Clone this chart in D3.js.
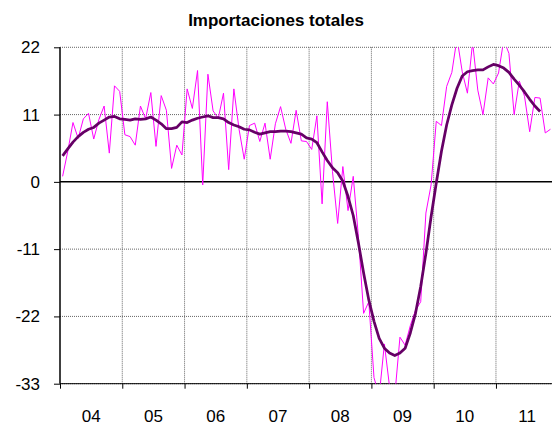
<!DOCTYPE html>
<html>
<head>
<meta charset="utf-8">
<script src="https://cdn.jsdelivr.net/npm/d3@7"></script>
<style>
    body { margin: 0; background: #fff; }
    text { font-family: "Liberation Sans", Arial, sans-serif; }
</style>
</head>
<body>
<div id="graph"></div>
<script>
// monthly series, Jan 2004 onwards
var annees = ["04", "05", "06", "07", "08", "09", "10", "11"];

var importaciones = [
    0.9, 5.0, 9.7, 7.1, 10.3, 11.2, 7.0, 10.2, 12.4, 4.7, 15.7, 14.8,
    7.7, 7.4, 6.0, 12.4, 10.3, 14.6, 5.8, 14.1, 11.7, 2.2, 6.0, 4.4,
    15.2, 12.0, 18.2, -0.5, 17.6, 11.6, 10.4, 14.5, 2.0, 15.2, 8.6, 3.7,
    9.2, 9.6, 6.6, 9.6, 3.7, 9.5, 12.3, 8.6, 6.3, 11.7, 6.7, 6.6,
    5.3, 10.8, -3.6, 13.1, 1.7, -6.8, 2.5, -4.7, 0.9, -9.0, -21.5, -19.6,
    -32.0, -35, -26.5, -33.5, -35, -25.4, -26.7, -23.5, -21.0, -19.6, -5.1, -0.5,
    9.9, 9.2, 15.6, 17.9, 23.5, 18.0, 14.5, 22.8, 15.0, 11.0, 17.0, 16.0,
    17.8, 23.2, 21.0, 11.0, 16.5, 14.0, 8.2, 13.8, 13.7, 8.0, 8.6
];

var tendencia = [
    4.25, 5.4, 6.5, 7.4, 8.1, 8.6, 8.9, 9.6, 10.1, 10.6, 10.7, 10.3,
    10.2, 10.1, 10.3, 10.2, 10.3, 10.6, 10.1, 9.5, 8.7, 8.7, 8.9, 9.8,
    9.7, 10.1, 10.4, 10.6, 10.8, 10.5, 10.5, 10.3, 9.7, 9.3, 9.0, 8.6,
    8.5, 8.1, 7.8, 8.0, 8.2, 8.2, 8.3, 8.3, 8.2, 8.0, 7.8, 7.2,
    7.0, 6.4, 4.9, 3.5, 2.3, 1.5, 0.1, -2.4, -5.5, -10.0, -14.9, -19.3,
    -22.8, -25.6, -27.2, -28.0, -28.4, -28.0, -27.2, -24.7, -21.5, -17.1, -11.7, -5.7,
    -0.2, 5.0, 9.3, 12.6, 15.3, 17.3, 18.0, 18.2, 18.3, 18.3, 18.8, 19.2,
    19.0, 18.6, 17.9, 16.8, 15.8, 14.7, 13.5, 12.4, 11.5
];

var ticksY = [22, 11, 0, -11, -22, -33];

function dessin() {
    var gauche = 60, haut = 47.3, bas = 383.7,
        largeurMois = 5.19,
        droite = gauche + 96 * largeurMois,

        svg = d3.select("#graph")
            .append("svg")
                .attr("width", 552)
                .attr("height", 427),

        x = d3.scaleLinear()
            .domain([0, 96])
            .range([gauche, droite]),

        y = d3.scaleLinear()
            .domain([-33, 22])
            .range([bas, haut]);

    svg.append("text")
        .attr("x", 276)
        .attr("y", 26)
        .style("text-anchor", "middle")
        .style("font-size", "17px")
        .style("font-weight", "bold")
        .text("Importaciones totales");

    svg.append("clipPath")
        .attr("id", "zone")
        .append("rect")
            .attr("x", gauche)
            .attr("y", haut)
            .attr("width", droite - gauche)
            .attr("height", bas - haut);

    // horizontal grid
    svg.selectAll(".grilleY")
        .data(ticksY.filter(function (d) { return d !== 0; }))
        .enter()
        .append("line")
        .attr("x1", gauche)
        .attr("x2", droite)
        .attr("y1", function (d) { return y(d); })
        .attr("y2", function (d) { return y(d); })
        .style("stroke", "#666")
        .style("stroke-width", 1)
        .style("stroke-dasharray", "1 1");

    // vertical grid at year boundaries
    svg.selectAll(".grilleX")
        .data(d3.range(1, annees.length))
        .enter()
        .append("line")
        .attr("x1", function (d) { return x(d * 12); })
        .attr("x2", function (d) { return x(d * 12); })
        .attr("y1", haut)
        .attr("y2", bas)
        .style("stroke", "#666")
        .style("stroke-width", 1)
        .style("stroke-dasharray", "1 1");

    // y axis, plain hyphen for negatives
    var axeY = svg.append("g")
        .attr("transform", "translate(" + gauche + ",0)")
        .call(d3.axisLeft(y)
            .tickValues(ticksY)
            .tickSize(6)
            .tickPadding(14)
            .tickFormat(function (d) { return String(d); }));
    axeY.select(".domain").remove();
    axeY.selectAll("text")
        .style("font-size", "17px")
        .style("fill", "#000");
    svg.append("line")
        .attr("x1", gauche).attr("x2", gauche)
        .attr("y1", haut).attr("y2", bas)
        .style("stroke", "#000").style("stroke-width", 1.5);

    // x axis at the bottom
    var axeX = svg.append("g")
        .attr("transform", "translate(0," + bas + ")")
        .call(d3.axisBottom(x)
            .tickValues(d3.range(0, annees.length + 1).map(function (d) { return d * 12; }))
            .tickSize(5)
            .tickFormat(""));
    axeX.select(".domain").remove();
    svg.append("line")
        .attr("x1", gauche).attr("x2", droite)
        .attr("y1", bas).attr("y2", bas)
        .style("stroke", "#000").style("stroke-width", 1);

    svg.selectAll(".annee")
        .data(annees)
        .enter()
        .append("text")
        .attr("x", function (d, i) { return x(i * 12 + 6); })
        .attr("y", 422)
        .style("text-anchor", "middle")
        .style("font-size", "17px")
        .text(function (d) { return d; });

    // zero line
    svg.append("line")
        .attr("x1", gauche).attr("x2", droite)
        .attr("y1", y(0)).attr("y2", y(0))
        .style("stroke", "#000").style("stroke-width", 1.5);

    var trace = d3.line()
        .x(function (d, i) { return x(i + 0.5); })
        .y(function (d) { return y(d); });

    svg.append("path")
        .datum(importaciones)
        .attr("clip-path", "url(#zone)")
        .attr("fill", "none")
        .attr("stroke", "#ff00ff")
        .attr("stroke-width", 1)
        .attr("d", trace);

    svg.append("path")
        .datum(tendencia)
        .attr("clip-path", "url(#zone)")
        .attr("fill", "none")
        .attr("stroke", "#660066")
        .attr("stroke-width", 2.75)
        .attr("stroke-linejoin", "round")
        .attr("d", trace);
}

dessin();
</script>
</body>
</html>
